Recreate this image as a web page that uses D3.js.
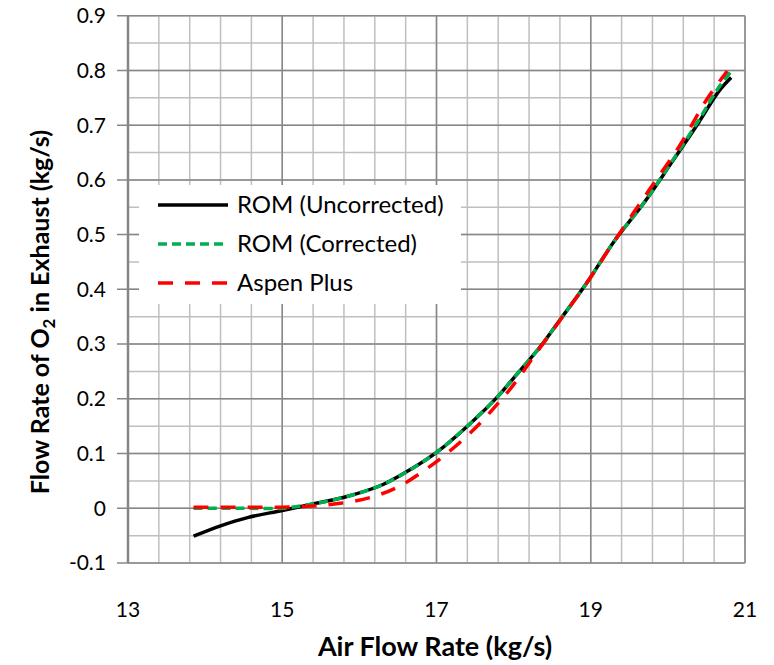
<!DOCTYPE html>
<html>
<head>
<meta charset="utf-8">
<script src="https://cdn.jsdelivr.net/npm/d3@7"></script>
<style>
  body { margin: 0; background: #fff; }
  text { font-family: Lato, "Noto Sans", sans-serif; }
</style>
</head>
<body>
<svg id="chart" width="774" height="665"></svg>
<script>
// values
const xTicks = [13, 15, 17, 19, 21];
const yTicks = [-0.1, 0, 0.1, 0.2, 0.3, 0.4, 0.5, 0.6, 0.7, 0.8, 0.9];
const yTickLabels = ['-0.1', '0', '0.1', '0.2', '0.3', '0.4', '0.5', '0.6', '0.7', '0.8', '0.9'];

const romX = [13.85, 14.2, 14.55, 15.0, 15.4, 15.85, 16.3, 16.7, 17.0, 17.4, 17.8, 18.0, 18.35, 18.6, 18.95, 19.3, 19.7, 20.05, 20.4, 20.65, 20.82];
const romUncorrected = [-0.051, -0.032, -0.017, -0.004, 0.008, 0.022, 0.043, 0.074, 0.102, 0.150, 0.205, 0.238, 0.296, 0.344, 0.412, 0.487, 0.560, 0.632, 0.705, 0.760, 0.787];
const romCorrected = [0, 0, 0, 0, 0.008, 0.022, 0.043, 0.074, 0.102, 0.150, 0.205, 0.238, 0.296, 0.344, 0.412, 0.487, 0.560, 0.633, 0.709, 0.767, 0.798];

const aspenX = [13.85, 14.5, 15.0, 15.4, 15.75, 16.15, 16.5, 16.85, 17.15, 17.5, 17.8, 18.0, 18.3, 18.6, 18.95, 19.3, 19.75, 20.15, 20.5, 20.77];
const aspenPlus = [0.002, 0.002, 0.002, 0.004, 0.009, 0.020, 0.039, 0.070, 0.102, 0.146, 0.192, 0.226, 0.285, 0.343, 0.412, 0.487, 0.580, 0.662, 0.746, 0.799];

const seriesNames = ['ROM (Uncorrected)', 'ROM (Corrected)', 'Aspen Plus'];

const svg = d3.select('#chart');
const plot = { left: 128, right: 745, top: 15.7, bottom: 563 };

const x = d3.scaleLinear().domain([13, 21]).range([plot.left, plot.right]);
const y = d3.scaleLinear().domain([-0.1, 0.9]).range([plot.bottom, plot.top]);

const minorX = d3.range(13, 21.001, 0.4);
const minorY = d3.range(-0.1, 0.9001, 0.05);

const grid = svg.append('g');

// minor grid
grid.selectAll('.minor-x')
  .data(minorX)
  .enter()
  .append('line')
  .attr('x1', d => x(d))
  .attr('x2', d => x(d))
  .attr('y1', plot.top)
  .attr('y2', plot.bottom)
  .attr('stroke', '#bfbfbf')
  .attr('stroke-width', 1.5);

grid.selectAll('.minor-y')
  .data(minorY)
  .enter()
  .append('line')
  .attr('x1', plot.left)
  .attr('x2', plot.right)
  .attr('y1', d => y(d))
  .attr('y2', d => y(d))
  .attr('stroke', '#bfbfbf')
  .attr('stroke-width', 1.5);

// major grid
grid.selectAll('.major-x')
  .data(xTicks)
  .enter()
  .append('line')
  .attr('x1', d => x(d))
  .attr('x2', d => x(d))
  .attr('y1', plot.top)
  .attr('y2', plot.bottom)
  .attr('stroke', '#878787')
  .attr('stroke-width', 1.5);

grid.selectAll('.major-y')
  .data(yTicks)
  .enter()
  .append('line')
  .attr('x1', plot.left - 11)
  .attr('x2', plot.right)
  .attr('y1', d => y(d))
  .attr('y2', d => y(d))
  .attr('stroke', '#878787')
  .attr('stroke-width', 1.5);

// left axis line
svg.append('line')
  .attr('x1', plot.left)
  .attr('x2', plot.left)
  .attr('y1', plot.top)
  .attr('y2', plot.bottom)
  .attr('stroke', '#868686')
  .attr('stroke-width', 2.5);

// tick labels
svg.append('g')
  .selectAll('text')
  .data(yTicks)
  .enter()
  .append('text')
  .attr('x', 106)
  .attr('y', d => y(d))
  .attr('dy', '0.35em')
  .attr('text-anchor', 'end')
  .attr('font-size', 21)
  .attr('fill', '#000')
  .text((d, i) => yTickLabels[i]);

svg.append('g')
  .selectAll('text')
  .data(xTicks)
  .enter()
  .append('text')
  .attr('x', d => x(d))
  .attr('y', 617)
  .attr('text-anchor', 'middle')
  .attr('font-size', 21)
  .attr('fill', '#000')
  .text(d => d);

// axis titles
svg.append('text')
  .attr('x', 435)
  .attr('y', 656)
  .attr('text-anchor', 'middle')
  .attr('font-size', 27)
  .attr('font-weight', 'bold')
  .text('Air Flow Rate (kg/s)');

const yTitle = svg.append('text')
  .attr('transform', 'translate(49,312) rotate(-90)')
  .attr('text-anchor', 'middle')
  .attr('font-size', 25)
  .attr('font-weight', 'bold');
yTitle.append('tspan').text('Flow Rate of O');
yTitle.append('tspan').attr('font-size', 17).attr('dy', 6).text('2');
yTitle.append('tspan').attr('dy', -6).text(' in Exhaust (kg/s)');

// lines
const line = d3.line()
  .x(d => x(d[0]))
  .y(d => y(d[1]))
  .curve(d3.curveCatmullRom.alpha(0.5));

const series = [
  { name: seriesNames[0], pts: d3.zip(romX, romUncorrected), color: '#000000', dash: null },
  { name: seriesNames[1], pts: d3.zip(romX, romCorrected), color: '#00b050', dash: '9,5' },
  { name: seriesNames[2], pts: d3.zip(aspenX, aspenPlus), color: '#ff0000', dash: '15,12' },
];

svg.append('g')
  .selectAll('path')
  .data(series)
  .enter()
  .append('path')
  .attr('d', d => line(d.pts))
  .attr('fill', 'none')
  .attr('stroke', d => d.color)
  .attr('stroke-width', 3.5)
  .attr('stroke-dasharray', d => d.dash);

// legend
const legend = svg.append('g');
legend.append('rect')
  .attr('x', 139)
  .attr('y', 185)
  .attr('width', 322)
  .attr('height', 119)
  .attr('fill', '#fff');

const item = legend.selectAll('g')
  .data(series)
  .enter()
  .append('g')
  .attr('transform', (d, i) => `translate(0,${205 + i * 39})`);

item.append('line')
  .attr('x1', 158)
  .attr('x2', 228)
  .attr('stroke', d => d.color)
  .attr('stroke-width', 3.5)
  .attr('stroke-dasharray', d => d.dash);

item.append('text')
  .attr('x', 237)
  .attr('dy', '0.35em')
  .attr('font-size', 24)
  .text(d => d.name);
</script>
</body>
</html>
